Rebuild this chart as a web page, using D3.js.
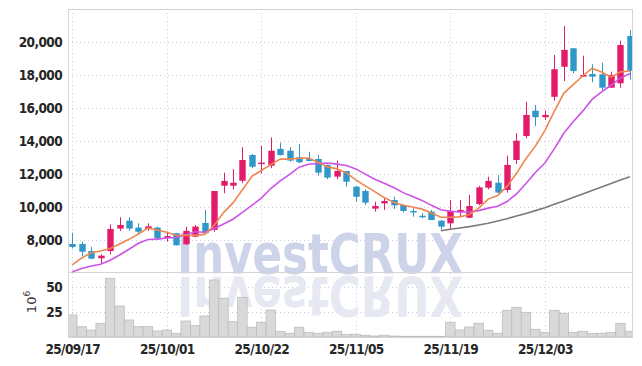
<!DOCTYPE html>
<html>
<head>
<meta charset="utf-8">
<script src="https://cdn.jsdelivr.net/npm/d3@7"></script>
<style>
  body { margin: 0; background: #fff; }
  .tick text { font-family: "Liberation Sans Narrow", "DejaVu Sans Condensed", sans-serif; font-weight: bold; fill: #262626; letter-spacing: -0.6px; }
</style>
</head>
<body>
<script>
const dates = ['25/09/17','25/09/18','25/09/19','25/09/22','25/09/23','25/09/24','25/09/25','25/09/26','25/09/29','25/09/30',
  '25/10/01','25/10/02','25/10/10','25/10/13','25/10/14','25/10/15','25/10/16','25/10/17','25/10/20','25/10/21',
  '25/10/22','25/10/23','25/10/24','25/10/27','25/10/28','25/10/29','25/10/30','25/10/31','25/11/03','25/11/04',
  '25/11/05','25/11/06','25/11/07','25/11/10','25/11/11','25/11/12','25/11/13','25/11/14','25/11/17','25/11/18',
  '25/11/19','25/11/20','25/11/21','25/11/24','25/11/25','25/11/26','25/11/27','25/11/28','25/12/01','25/12/02',
  '25/12/03','25/12/04','25/12/05','25/12/08','25/12/09','25/12/10','25/12/11','25/12/12','25/12/15','25/12/16'];

const open = [7790, 7790, 7360, 6920, 7360, 8720, 9200, 8780, 8700, 8780,
  8170, 8440, 7770, 8230, 9060, 8640, 11320, 11320, 11620, 13180,
  12640, 12530, 13550, 13440, 13040, 12940, 12940, 12580, 11870, 12210,
  11260, 11000, 9930, 10250, 10450, 10150, 9790, 9500, 9750, 9200,
  9040, 9730, 9380, 10210, 11200, 11500, 11060, 12880, 14330, 15870,
  15470, 16710, 18530, 19650, 17930, 18090, 18070, 17260, 17530, 20390];
const high = [8470, 7930, 7620, 7160, 8980, 9410, 9410, 9040, 9040, 8840,
  8530, 8460, 8840, 8940, 9850, 11000, 12110, 12320, 13650, 13240,
  13730, 14250, 13930, 13650, 13850, 13380, 13180, 12600, 12840, 12210,
  11300, 11100, 10350, 10560, 10650, 10200, 9950, 9650, 9850, 9240,
  10450, 10450, 10760, 11300, 11870, 11970, 13140, 14500, 16410, 16210,
  15870, 19240, 21000, 19650, 19200, 18680, 18780, 18230, 20110, 20760];
const low = [7520, 7060, 6860, 6580, 7160, 8580, 8590, 8390, 8580, 8090,
  7930, 7690, 7730, 8190, 8390, 8530, 10860, 11100, 11470, 12380,
  12070, 12380, 13150, 12780, 12680, 12820, 11930, 11710, 11710, 11260,
  10350, 10150, 9750, 9850, 9910, 9710, 9440, 9350, 9240, 8680,
  8680, 9480, 9350, 10150, 11100, 10860, 10900, 12640, 14190, 14940,
  15300, 16470, 17670, 18130, 17930, 17590, 17120, 17260, 17260, 17770];
const close = [7610, 7320, 6900, 7080, 8700, 8940, 8720, 8530, 8860, 8130,
  8270, 7710, 8580, 8840, 8440, 11000, 11610, 11500, 12880, 12470,
  12720, 13440, 13180, 12840, 12740, 12820, 12110, 11810, 12210, 11560,
  10650, 10290, 10090, 10390, 10130, 9790, 9730, 9440, 9240, 8840,
  9790, 9850, 10090, 11220, 11610, 10900, 12580, 14050, 15610, 15470,
  15610, 18380, 19550, 18270, 18030, 17930, 17260, 18030, 19850, 18290];

// moving averages as drawn (5, 10, 60 days)
const ma5 = [6520, 6940, 7260, 7360, 7520, 7790, 8070, 8390, 8750, 8640,
  8500, 8300, 8310, 8310, 8370, 8910, 9690, 10280, 11080, 11890,
  12240, 12600, 12940, 12930, 12980, 13000, 12740, 12460, 12340, 12100,
  11670, 11310, 10960, 10600, 10310, 10140, 10030, 9900, 9670, 9410,
  9410, 9430, 9560, 9960, 10510, 10730, 11280, 12070, 12950, 13720,
  14660, 15820, 16920, 17450, 17970, 18430, 18210, 17900, 18220, 18270];
const ma10 = [6110, 6300, 6450, 6560, 6800, 7120, 7470, 7830, 8060, 8080,
  8150, 8180, 8350, 8530, 8500, 8710, 9000, 9290, 9700, 10130,
  10570, 11150, 11610, 12010, 12440, 12620, 12670, 12700, 12630, 12540,
  12340, 12020, 11710, 11470, 11210, 10900, 10670, 10430, 10130, 9860,
  9770, 9730, 9730, 9810, 9960, 10070, 10360, 10820, 11450, 12120,
  12700, 13550, 14500, 15200, 15840, 16550, 17010, 17410, 17840, 18120];
const ma60 = [null, null, null, null, null, null, null, null, null, null,
  null, null, null, null, null, null, null, null, null, null,
  null, null, null, null, null, null, null, null, null, null,
  null, null, null, null, null, null, null, null, null, 8590,
  8680, 8760, 8840, 8940, 9050, 9180, 9320, 9480, 9640, 9810,
  9980, 10190, 10400, 10610, 10820, 11030, 11240, 11450, 11660, 11870];

// volume, millions
const volume = [22, 10.3, 7, 13.7, 58.7, 31, 17, 10.3, 10.3, 6,
  7, 3.7, 16, 11.3, 21, 57, 38.7, 15.3, 39.7, 9.7,
  14.7, 27, 5.7, 3.7, 9.7, 4.7, 3.7, 4.7, 5.7, 2.7,
  2.7, 1.7, 1, 1.7, 1, 0.7, 0.7, 0.7, 0.7, 0.7,
  14.7, 7, 10, 13.7, 6.7, 3.7, 26.7, 29.7, 24.7, 7.7,
  4.7, 26.7, 23.7, 4.7, 5.7, 3.7, 3.7, 4.7, 13.7, 5.7];

const priceTicks = [8000, 10000, 12000, 14000, 16000, 18000, 20000];
const volTicks = [25, 50];
const dateTicks = ['25/09/17', '25/10/01', '25/10/22', '25/11/05', '25/11/19', '25/12/03'];

const W = 642, H = 366;
const plotL = 68, plotR = 632, plotT = 9, plotMid = 272, plotB = 337;

const svg = d3.select('body').append('svg')
  .attr('width', W).attr('height', H);

const x = d3.scalePoint().domain(dates).range([72.3, 629.9]);
const step = x.step();
const y = d3.scaleLinear().domain([6090, 22030]).range([plotMid, plotT]);
const yv = d3.scaleLinear().domain([0, 65]).range([plotB, plotMid]);

svg.append('defs').append('clipPath').attr('id', 'clip')
  .append('rect').attr('x', plotL).attr('y', plotT).attr('width', plotR - plotL).attr('height', plotB - plotT);

const gridColor = '#c9cbe0';

// grid
const grid = svg.append('g');
grid.selectAll('.hg').data(priceTicks).enter().append('line')
  .attr('x1', plotL).attr('x2', plotR)
  .attr('y1', d => Math.round(y(d)) + 0.5).attr('y2', d => Math.round(y(d)) + 0.5)
  .attr('stroke', gridColor).attr('stroke-dasharray', '1,3');
grid.selectAll('.vg').data(volTicks).enter().append('line')
  .attr('x1', plotL).attr('x2', plotR)
  .attr('y1', d => Math.round(yv(d)) + 0.5).attr('y2', d => Math.round(yv(d)) + 0.5)
  .attr('stroke', gridColor).attr('stroke-dasharray', '1,3');
grid.selectAll('.xg').data(dateTicks).enter().append('line')
  .attr('x1', d => Math.round(x(d)) + 0.5).attr('x2', d => Math.round(x(d)) + 0.5)
  .attr('y1', plotT).attr('y2', plotB)
  .attr('stroke', gridColor).attr('stroke-dasharray', '1,3');

// watermark, with its mirror image drawn as a flipped copy
const wm = svg.append('g').attr('clip-path', 'url(#clip)');
wm.append('text')
  .attr('x', 177).attr('y', 273)
  .attr('textLength', 286).attr('lengthAdjust', 'spacingAndGlyphs')
  .attr('font-family', 'DejaVu Sans, sans-serif').attr('font-weight', 'bold')
  .attr('font-size', 56).attr('fill', '#cdd3e9')
  .text('InvestCRUX');
wm.append('g')
  .attr('transform', 'translate(0,550) scale(1,-1)')
  .append('text')
  .attr('x', 177).attr('y', 273)
  .attr('textLength', 286).attr('lengthAdjust', 'spacingAndGlyphs')
  .attr('font-family', 'DejaVu Sans, sans-serif').attr('font-weight', 'bold')
  .attr('font-size', 56).attr('fill', '#e6e9f2')
  .text('InvestCRUX');

// volume bars
svg.append('g').attr('clip-path', 'url(#clip)')
  .selectAll('rect').data(volume).enter().append('rect')
  .attr('x', (d, i) => x(dates[i]) - step / 2)
  .attr('width', step)
  .attr('y', d => yv(d))
  .attr('height', d => plotB - yv(d))
  .attr('fill', '#d6d6d6').attr('fill-opacity', 0.92)
  .attr('stroke', '#bdbdbd').attr('stroke-width', 0.8);

// frame
const frame = svg.append('g').attr('stroke', '#d4d4d4').attr('fill', 'none');
frame.append('rect').attr('x', plotL + 0.5).attr('y', plotT + 0.5)
  .attr('width', plotR - plotL).attr('height', plotB - plotT);
frame.append('line').attr('x1', plotL).attr('x2', plotR)
  .attr('y1', plotMid + 0.5).attr('y2', plotMid + 0.5);

// candles
const up = '#e21b6a', down = '#3197c9';
const candles = svg.append('g').attr('clip-path', 'url(#clip)')
  .selectAll('g').data(dates).enter().append('g');
candles.append('line')
  .attr('x1', d => Math.round(x(d)) + 0.5).attr('x2', d => Math.round(x(d)) + 0.5)
  .attr('y1', (d, i) => y(high[i])).attr('y2', (d, i) => y(low[i]))
  .attr('stroke', (d, i) => close[i] >= open[i] ? up : down);
candles.append('rect')
  .attr('x', d => Math.round(x(d)) - 2.7)
  .attr('width', 6.4)
  .attr('y', (d, i) => y(Math.max(open[i], close[i])))
  .attr('height', (d, i) => Math.max(1.5, Math.abs(y(open[i]) - y(close[i]))))
  .attr('fill', (d, i) => close[i] >= open[i] ? up : down);

// moving average lines
const lineGen = arr => d3.line()
  .defined((d, i) => arr[i] != null)
  .x(d => x(d))
  .y((d, i) => y(arr[i]));
const lines = svg.append('g').attr('clip-path', 'url(#clip)').attr('fill', 'none');
lines.append('path').attr('d', lineGen(ma60)(dates)).attr('stroke', '#7a7a7a').attr('stroke-width', 1.6);
lines.append('path').attr('d', lineGen(ma10)(dates)).attr('stroke', '#cc52e8').attr('stroke-width', 1.6);
lines.append('path').attr('d', lineGen(ma5)(dates)).attr('stroke', '#ee8650').attr('stroke-width', 1.6);

// axes
const yAxis = svg.append('g').attr('transform', `translate(${plotL},0)`)
  .call(d3.axisLeft(y).tickValues(priceTicks).tickFormat(d3.format(',')).tickSize(0).tickPadding(6));
const vAxis = svg.append('g').attr('transform', `translate(${plotL},0)`)
  .call(d3.axisLeft(yv).tickValues(volTicks).tickSize(0).tickPadding(6));
const xAxis = svg.append('g').attr('transform', `translate(0,${plotB})`)
  .call(d3.axisBottom(x).tickValues(dateTicks).tickSize(0).tickPadding(7));
[yAxis, vAxis, xAxis].forEach(g => {
  g.select('.domain').remove();
  g.selectAll('.tick text').attr('font-size', 13.5);
});

// volume unit
svg.append('text')
  .attr('transform', 'translate(36,302) rotate(-90)')
  .attr('text-anchor', 'middle')
  .attr('font-family', 'DejaVu Sans, sans-serif').attr('font-size', 13).attr('fill', '#3a3a3a')
  .html('10<tspan dy="-6" font-size="9">6</tspan>');
</script>
</body>
</html>
